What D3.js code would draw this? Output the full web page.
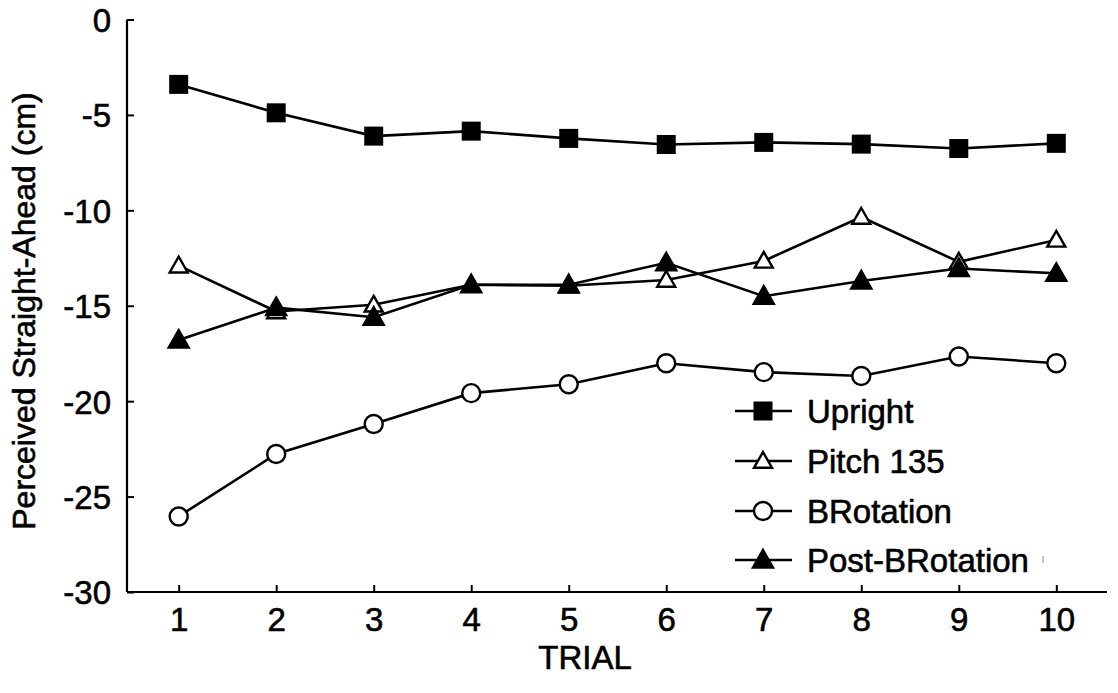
<!DOCTYPE html>
<html>
<head>
<meta charset="utf-8">
<script src="https://cdn.jsdelivr.net/npm/d3@7/dist/d3.min.js"></script>
<style>
html,body{margin:0;padding:0;background:#fff;}
svg text{font-family:"Liberation Sans",Arial,sans-serif;fill:#000;stroke:#000;stroke-width:0.6px;}
</style>
</head>
<body>
<svg id="chart" width="1118" height="693"></svg>
<script>
const trials = [1,2,3,4,5,6,7,8,9,10];
const upright = [-3.4,-4.89,-6.11,-5.85,-6.23,-6.55,-6.44,-6.53,-6.76,-6.49];
const pitch135 = [-12.9,-15.3,-14.95,-13.9,-13.95,-13.65,-12.65,-10.35,-12.7,-11.55];
const bRotation = [-26.04,-22.77,-21.2,-19.58,-19.11,-18.01,-18.48,-18.68,-17.66,-18.01];
const postBRotation = [-16.8,-15.1,-15.6,-13.9,-13.9,-12.75,-14.5,-13.7,-13.05,-13.3];
const seriesNames = ["Upright","Pitch 135","BRotation","Post-BRotation"];
const yTicks = [0,-5,-10,-15,-20,-25,-30];

const series = [
  {name:seriesNames[0], values:upright, shape:"square", fill:"#000"},
  {name:seriesNames[1], values:pitch135, shape:"triangle", fill:"#fff"},
  {name:seriesNames[2], values:bRotation, shape:"circle", fill:"#fff"},
  {name:seriesNames[3], values:postBRotation, shape:"triangle", fill:"#000"}
];

const svg = d3.select("#chart");
const x = d3.scaleLinear().domain([0.47,10.52]).range([127,1107]);
const y = d3.scaleLinear().domain([0,-30]).range([19.5,592]);

// axes
const xAxis = svg.append("g").attr("transform","translate(0,"+y(-30)+")")
  .call(d3.axisBottom(x).tickValues(trials).tickSize(-7).tickPadding(16).tickFormat(d3.format("d")));
const yAxis = svg.append("g").attr("transform","translate("+x.range()[0]+",0)")
  .call(d3.axisLeft(y).tickValues(yTicks).tickSize(-7).tickPadding(16).tickFormat(d=>d===0?"0":String(d).replace("−","-")));
[xAxis,yAxis].forEach(g=>{
  g.select(".domain").attr("stroke","#000").attr("stroke-width",2.2);
  g.selectAll(".tick line").attr("stroke","#000").attr("stroke-width",2);
  g.selectAll(".tick text").attr("font-size",33).attr("font-family","Liberation Sans, Arial, sans-serif");
});
xAxis.selectAll(".tick text").attr("dy","0.71em");
yAxis.selectAll(".tick text").attr("dy","0.36em");
yAxis.select(".domain").attr("d","M0,"+y(0)+"V"+y(-30));
xAxis.select(".domain").attr("d","M"+x.range()[0]+",0H"+x.range()[1]);

function drawMarker(g, shape, fill, cx, cy){
  if(shape==="square"){
    g.append("rect").attr("x",cx-9.5).attr("y",cy-9.5).attr("width",19).attr("height",19)
      .attr("fill","#000");
  } else if(shape==="circle"){
    g.append("circle").attr("cx",cx).attr("cy",cy).attr("r",9)
      .attr("fill","#fff").attr("stroke","#000").attr("stroke-width",2.4);
  } else {
    const s = fill==="#000" ? 10 : 9;
    g.append("path").attr("d",`M${cx},${cy-s}L${cx+s},${cy+s*0.75}L${cx-s},${cy+s*0.75}Z`)
      .attr("fill",fill).attr("stroke","#000").attr("stroke-width",2.4).attr("stroke-linejoin","miter");
  }
}

const line = d3.line().x((d,i)=>x(trials[i])).y(d=>y(d));
const plot = svg.append("g");
series.forEach(s=>{
  plot.append("path").datum(s.values).attr("d",line)
    .attr("fill","none").attr("stroke","#000").attr("stroke-width",2.6);
});
series.forEach(s=>{
  const g = plot.append("g");
  s.values.forEach((v,i)=>drawMarker(g,s.shape,s.fill,x(trials[i]),y(v)));
});

// legend
const legY = [411,461,511,560];
const leg = svg.append("g");
series.forEach((s,i)=>{
  leg.append("line").attr("x1",735).attr("x2",792).attr("y1",legY[i]).attr("y2",legY[i])
    .attr("stroke","#000").attr("stroke-width",2.6);
  drawMarker(leg,s.shape,s.fill,763,legY[i]);
  leg.append("text").attr("x",807).attr("y",legY[i]).attr("dy","0.36em")
    .attr("font-size",33).text(s.name);
});
// small scan mark
svg.append("line").attr("x1",1043).attr("x2",1043).attr("y1",556).attr("y2",563)
  .attr("stroke","#888").attr("stroke-width",1);

// axis titles
svg.append("text").attr("x",585).attr("y",669).attr("text-anchor","middle")
  .attr("font-size",33).text("TRIAL");
svg.append("text").attr("transform","translate(35,311) rotate(-90)")
  .attr("text-anchor","middle").attr("font-size",32).text("Perceived Straight-Ahead (cm)");
</script>
</body>
</html>
